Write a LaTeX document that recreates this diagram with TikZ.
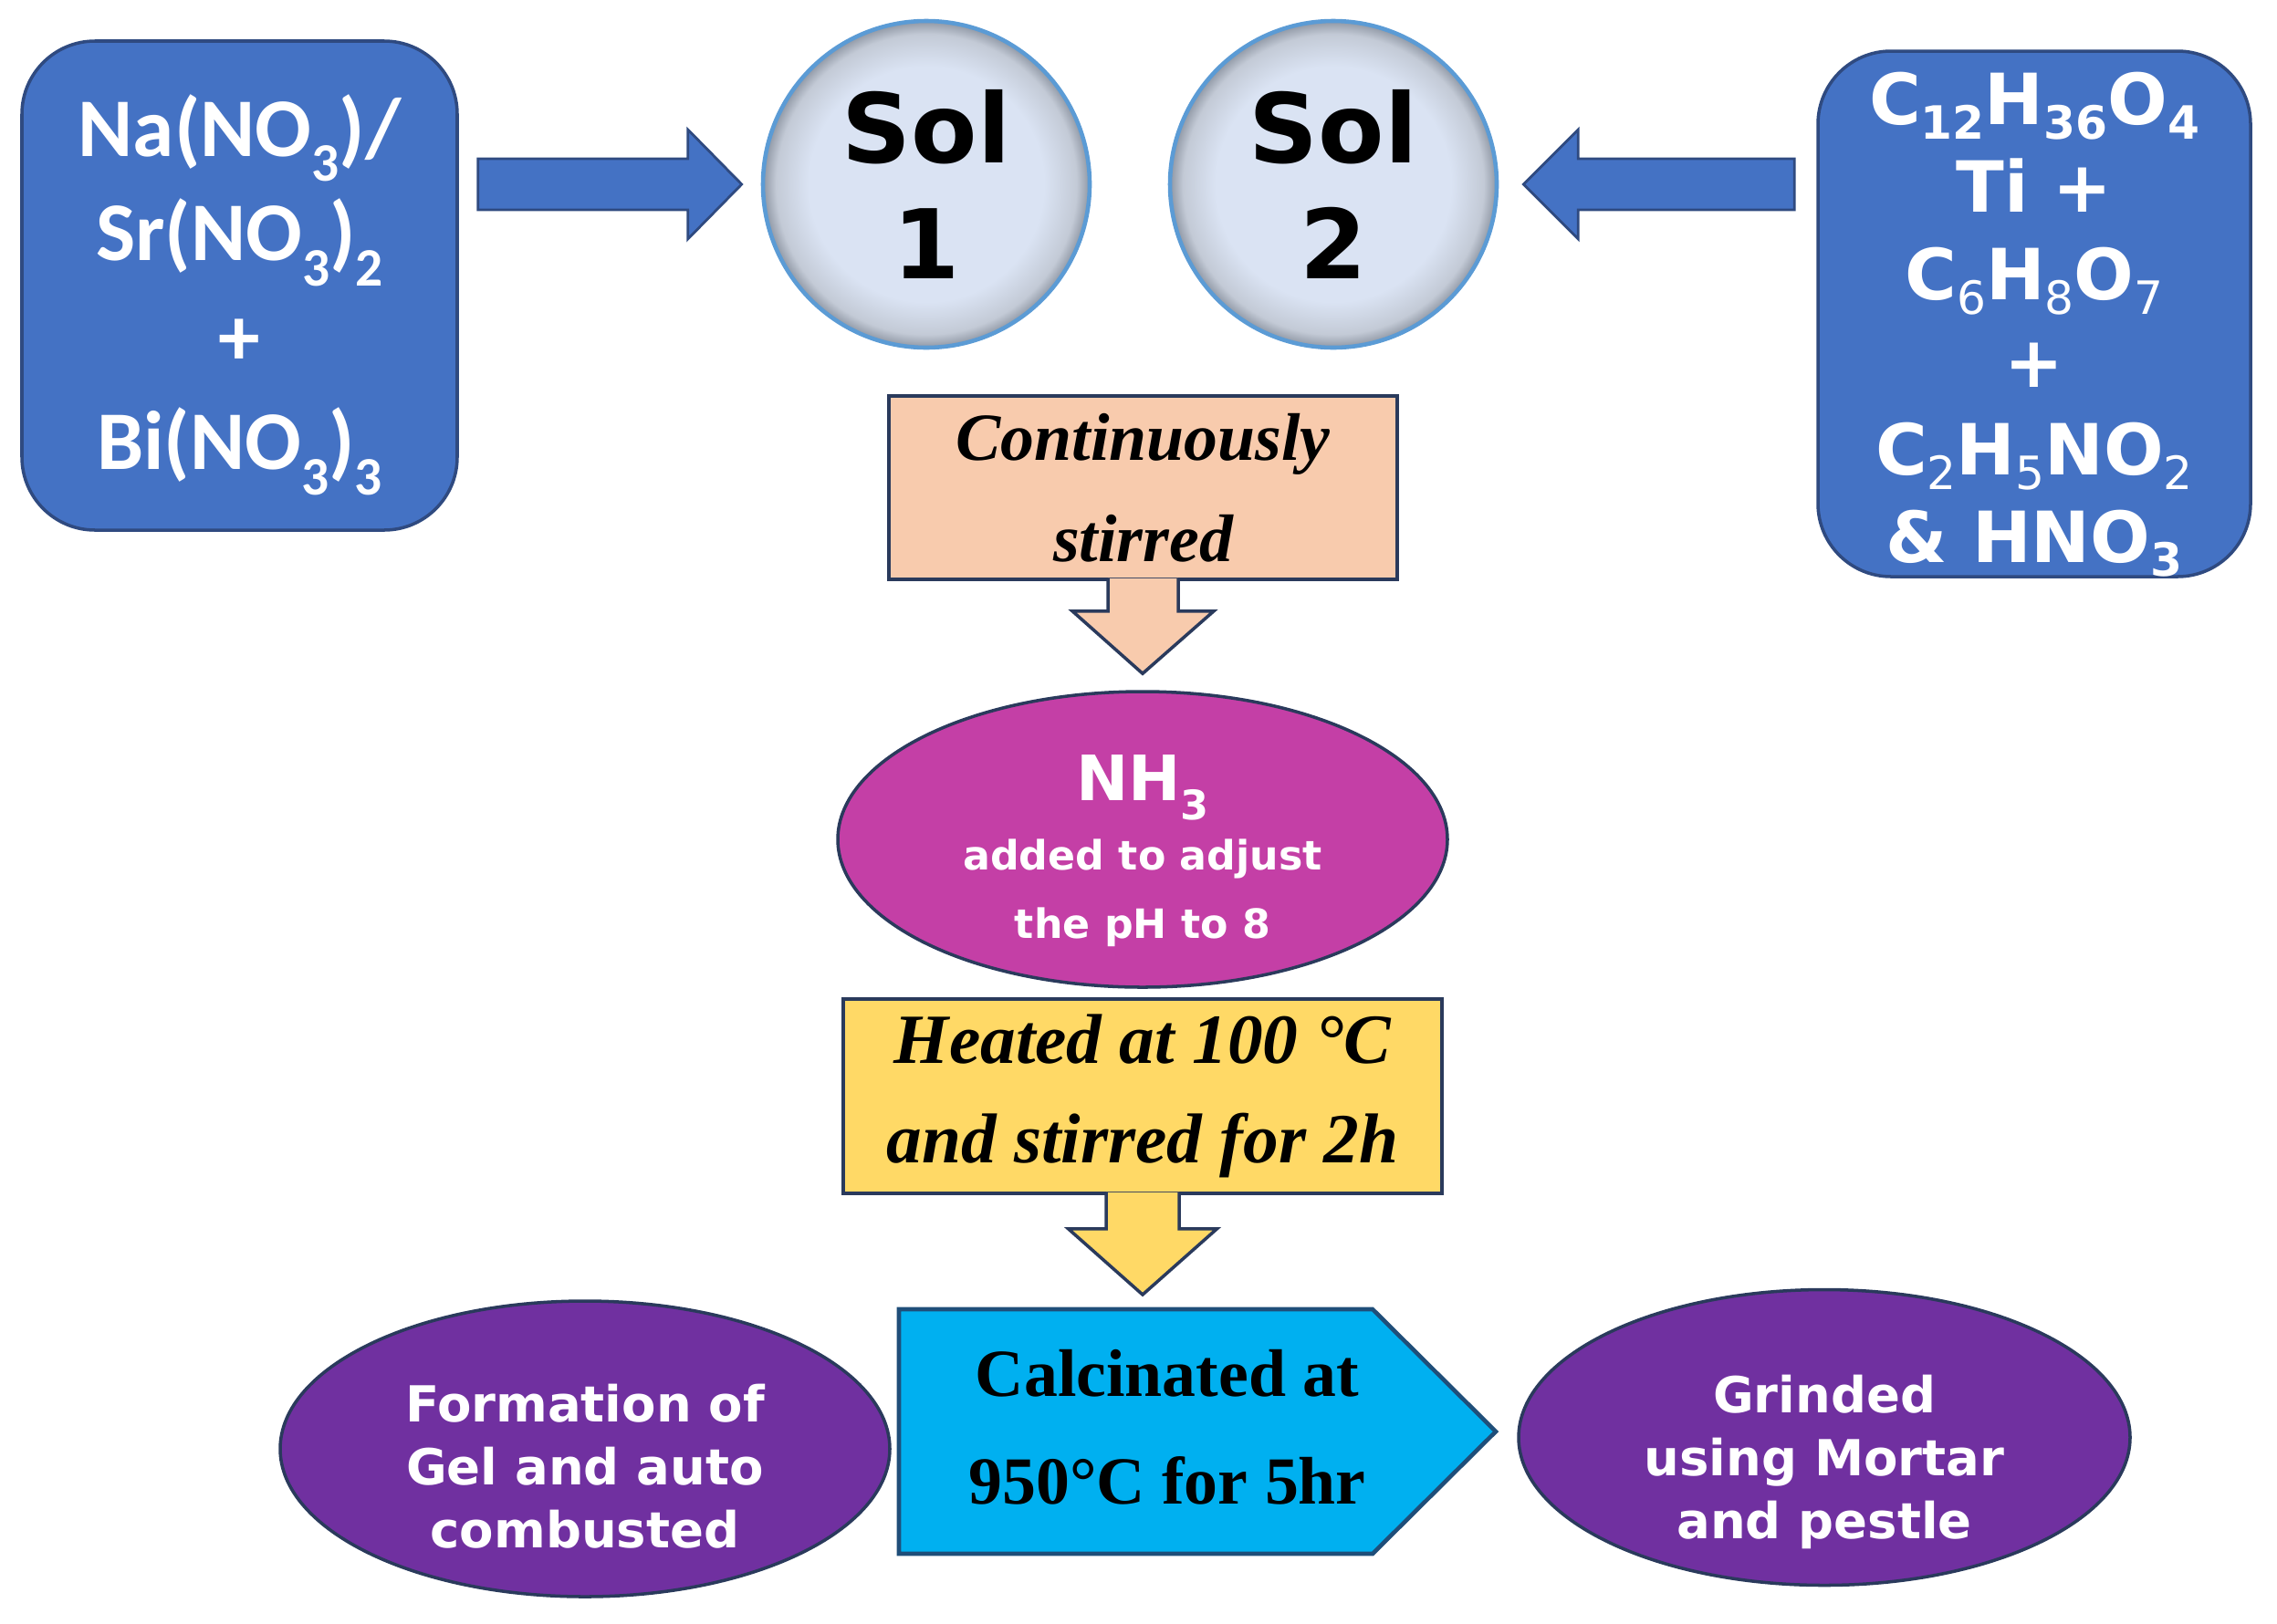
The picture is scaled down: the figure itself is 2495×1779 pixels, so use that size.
\documentclass[tikz,border=0pt]{standalone}
\usepackage{fontspec}
\setmainfont{Liberation Serif}
\newfontfamily\calib{Carlito}
\newfontfamily\djb{DejaVu Sans}
\usetikzlibrary{shapes.geometric,calc}

\definecolor{boxblue}{HTML}{4472C4}
\definecolor{boxblueedge}{HTML}{2F4A80}
\definecolor{edgecol}{HTML}{2A3A5C}
\definecolor{peach}{HTML}{F8CBAD}
\definecolor{nhmag}{HTML}{C43FA6}
\definecolor{gold}{HTML}{FFD966}
\definecolor{cyanb}{HTML}{00B0F0}
\definecolor{cyanedge}{HTML}{1F4E79}
\definecolor{purp}{HTML}{7030A0}
\definecolor{solin}{HTML}{DAE3F3}
\definecolor{solmid}{HTML}{C3CAD6}
\definecolor{solout}{HTML}{8F97A4}
\definecolor{solrim}{HTML}{5B9BD5}

\pgfdeclareradialshading{solshade}{\pgfpoint{0bp}{0bp}}{color(0bp)=(solin); color(18bp)=(solin); color(23bp)=(solmid); color(25bp)=(solout); color(50bp)=(solout)}

\makeatletter
\newcommand\chs[1]{\raisebox{-0.3em}{\fontsize{\strip@pt\dimexpr\f@size pt*65/100\relax}{0}\selectfont #1}}
\newcommand\chsr[1]{\raisebox{-0.2em}{\fontsize{\strip@pt\dimexpr\f@size pt*65/100\relax}{0}\selectfont #1}}
\makeatother

\begin{document}
\begin{tikzpicture}[x=0.1mm,y=-0.1mm,
  chembox/.style={rectangle, rounded corners=8mm, fill=boxblue, draw=boxblueedge, line width=1pt, inner sep=0pt},
  whitetext/.style={text=white, align=center, inner sep=0pt},
  solnode/.style={circle, shading=solshade, draw=solrim, line width=1.3pt, minimum size=35.8mm, inner sep=0pt, align=center, font=\djb\bfseries\fontsize{30}{36}\selectfont},
  flowbox/.style={rectangle, draw=edgecol, line width=1pt, align=center, inner sep=0pt},
  oval/.style={ellipse, draw=edgecol, line width=1pt, inner sep=0pt},
  fatarrow/.style={fill=boxblue, draw=boxblueedge, line width=0.8pt},
  stemline/.style={draw=edgecol, line width=1pt}]

\fill[white] (0,0) rectangle (2495,1779);
\useasboundingbox (0,0) rectangle (2495,1779);

% top row
\node[chembox, minimum width=47.7mm, minimum height=53.6mm,
  label={[whitetext, yshift=-1.0mm, font=\calib\bfseries\fontsize{26}{32.6}\selectfont]center:{Na(NO\chs{3})/\\Sr(NO\chs{3})\chs{2}\\+\\Bi(NO\chs{3})\chs{3}}}] (lbox) at (262.5,313) {};
\node[solnode] (sol1) at (1015,202) {Sol\\1};
\node[solnode] (sol2) at (1461,202) {Sol\\2};
\node[chembox, minimum width=47.4mm, minimum height=57.6mm,
  label={[whitetext, yshift=-1.2mm, font=\djb\bfseries\fontsize{22}{27.3}\selectfont]center:{C\chsr{12}H\chsr{36}O\chsr{4}\\Ti +\\C\chsr{\mdseries 6}H\chsr{\mdseries 8}O\chsr{\mdseries 7}\\+\\C\chsr{\mdseries 2}H\chsr{\mdseries 5}NO\chsr{\mdseries 2}\\\& HNO\chsr{3}}}] (rbox) at (2229,344) {};

% blue block arrows
\coordinate (a1s) at ($(lbox.east |- sol1.center)+(21,0)$);
\coordinate (a1t) at ($(sol1.west)+(-21,0)$);
\draw[fatarrow] ($(a1s)+(0,-28)$) -- ($(a1t)+(-59,-28)$) -- ($(a1t)+(-59,-60)$) -- (a1t) -- ($(a1t)+(-59,60)$) -- ($(a1t)+(-59,28)$) -- ($(a1s)+(0,28)$) -- cycle;
\coordinate (a2s) at ($(rbox.west |- sol2.center)+(-24,0)$);
\coordinate (a2t) at ($(sol2.east)+(27,0)$);
\draw[fatarrow] ($(a2s)+(0,-28)$) -- ($(a2t)+(60,-28)$) -- ($(a2t)+(60,-60)$) -- (a2t) -- ($(a2t)+(60,60)$) -- ($(a2t)+(60,28)$) -- ($(a2s)+(0,28)$) -- cycle;

% middle column
\node[flowbox, fill=peach, minimum width=55.7mm, minimum height=20.1mm, font=\bfseries\itshape\fontsize{21}{31.6}\selectfont] (stir) at (1252.5,534.5)
  {Continuously\\stirred};
\node[oval, fill=nhmag, minimum width=66.8mm, minimum height=32.4mm,
  label={[whitetext, yshift=-1.3mm, font=\djb\bfseries\fontsize{12.6}{21.5}\selectfont]center:{{\fontsize{19.5}{21.5}\selectfont NH\chs{3}}\\added to adjust\\the pH to 8}}] (nh3) at (1252,920) {};
\node[flowbox, fill=gold, minimum width=65.6mm, minimum height=21.3mm, font=\bfseries\itshape\fontsize{22}{30.8}\selectfont] (heat) at (1252,1201.5)
  {Heated at 100 °C\\and stirred for 2h};

\coordinate (d1t) at ($(nh3.north)+(0,-18)$);
\draw[stemline, fill=peach] ($(stir.south)+(-38.5,-3)$) -- ($(stir.south)+(-38.5,33)$) -- ($(stir.south)+(-77.5,33)$) -- (d1t) -- ($(stir.south)+(77.5,33)$) -- ($(stir.south)+(38.5,33)$) -- ($(stir.south)+(38.5,-3)$);

% bottom row
\coordinate (cc) at (1279,1569);
\draw[fill=cyanb, draw=cyanedge, line width=1.3pt] ($(cc)+(-294,-134)$) -- ($(cc)+(225,-134)$) -- ($(cc)+(360,0)$) -- ($(cc)+(225,134)$) -- ($(cc)+(-294,134)$) -- cycle;
\node[font=\bfseries\fontsize{21}{33.5}\selectfont, align=center, inner sep=0pt] (calcn) at ($(cc)+(0,-5)$) {Calcinated at\\950°C for 5hr};
\coordinate (calctop) at ($(cc)+(0,-134)$);
\coordinate (d2t) at ($(heat.south |- calctop)+(0,-16)$);
\draw[stemline, fill=gold] ($(heat.south)+(-40,-3)$) -- ($(heat.south)+(-40,37)$) -- ($(heat.south)+(-81.5,37)$) -- (d2t) -- ($(heat.south)+(81.5,37)$) -- ($(heat.south)+(40,37)$) -- ($(heat.south)+(40,-3)$);

\node[oval, fill=purp, minimum width=66.8mm, minimum height=32.4mm,
  label={[whitetext, yshift=-1.9mm, font=\djb\bfseries\fontsize{15.5}{19.6}\selectfont]center:{Formation of\\Gel and auto\\combusted}}] (gel) at (641,1588) {};
\node[oval, fill=purp, minimum width=67mm, minimum height=32.4mm,
  label={[whitetext, yshift=-2.7mm, font=\djb\bfseries\fontsize{15.5}{19.6}\selectfont]center:{Grinded\\using Mortar\\and pestle}}] (grind) at (1999,1575.5) {};
\end{tikzpicture}
\end{document}
